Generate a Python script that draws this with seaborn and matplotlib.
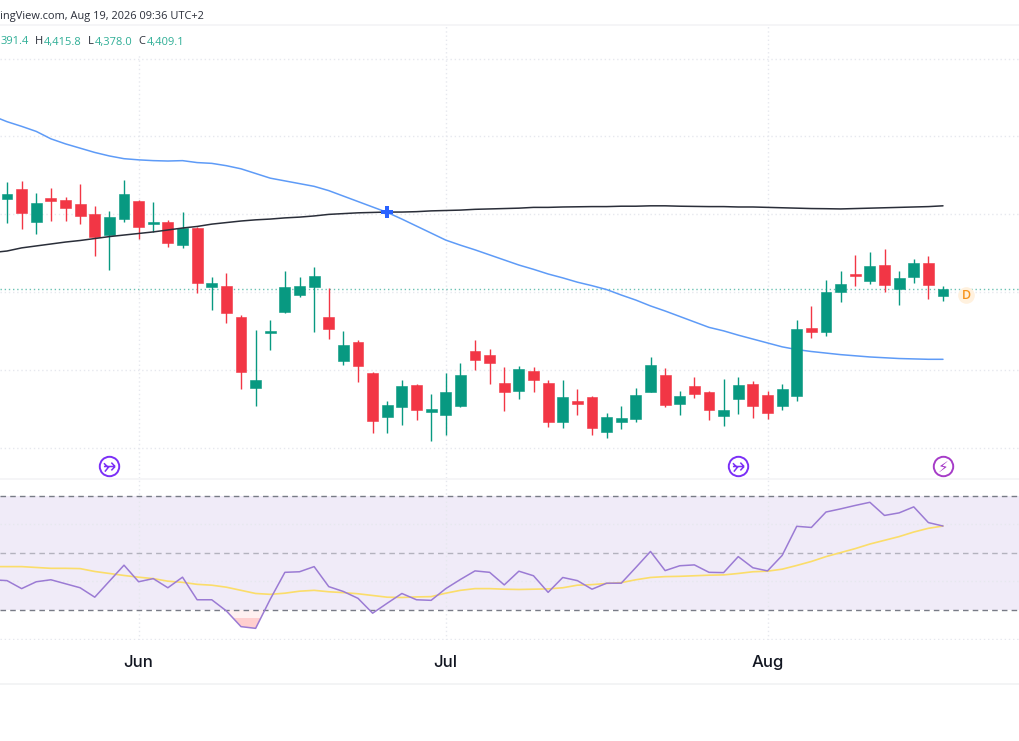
import numpy as np
import pandas as pd
import seaborn as sns
import matplotlib.pyplot as plt
from matplotlib.lines import Line2D
from matplotlib.patches import Rectangle
from matplotlib.path import Path

# Daily candles
opens = [4640, 4664, 4580, 4641, 4638, 4626, 4600, 4547, 4587, 4635, 4576, 4581, 4522,
         4564, 4414, 4416, 4337, 4155, 4295, 4349, 4393, 4414, 4337, 4224, 4273, 4192,
         4080, 4105, 4162, 4094, 4085, 4109, 4249, 4238, 4168, 4147, 4197, 4168, 4066,
         4121, 4131, 4041, 4066, 4074, 4145, 4188, 4114, 4159, 4145, 4082, 4126, 4164,
         4136, 4109, 4135, 4308, 4297, 4400, 4448, 4429, 4469, 4408, 4439, 4474, 4391.4]
highs = [4682, 4686, 4654, 4667, 4644, 4677, 4622, 4608, 4688, 4637, 4631, 4585, 4605,
         4568, 4439, 4450, 4343, 4302, 4329, 4454, 4439, 4464, 4411, 4301, 4278, 4195,
         4122, 4174, 4165, 4139, 4193, 4219, 4278, 4254, 4208, 4210, 4208, 4174, 4174,
         4151, 4133, 4090, 4108, 4154, 4233, 4205, 4147, 4183, 4147, 4177, 4183, 4172,
         4147, 4164, 4329, 4365, 4432, 4454, 4497, 4503, 4510, 4455, 4486, 4494, 4415.8]
lows = [4579, 4562, 4550, 4582, 4582, 4575, 4493, 4458, 4580, 4538, 4554, 4516, 4513,
        4397, 4355, 4322, 4152, 4109, 4253, 4346, 4389, 4299, 4281, 4214, 4171, 4038,
        4038, 4060, 4073, 4018, 4034, 4105, 4201, 4165, 4095, 4126, 4143, 4054, 4052,
        4085, 4034, 4025, 4048, 4066, 4143, 4105, 4085, 4129, 4073, 4057, 4087, 4077,
        4075, 4098, 4122, 4283, 4289, 4374, 4417, 4422, 4401, 4367, 4423, 4384, 4378.0]
closes = [4652, 4604, 4630, 4634, 4616, 4597, 4542, 4593, 4653, 4567, 4581, 4527, 4566,
          4425, 4424, 4348, 4195, 4176, 4300, 4413, 4416, 4441, 4307, 4264, 4210, 4070,
          4110, 4159, 4099, 4100, 4145, 4188, 4227, 4218, 4144, 4203, 4175, 4066, 4131,
          4112, 4052, 4081, 4077, 4137, 4213, 4110, 4133, 4138, 4099, 4098, 4162, 4107,
          4089, 4153, 4306, 4299, 4401, 4421, 4441, 4467, 4420, 4437, 4474, 4420, 4409.1]

# Moving averages, first value is the bar just off the left edge
ma_blue = [4853, 4838, 4826, 4813, 4794, 4781, 4770, 4759, 4750, 4743, 4740, 4738, 4737,
           4738, 4733, 4731, 4725, 4717, 4705, 4693, 4686, 4679, 4672, 4661, 4647, 4633,
           4619, 4605, 4588, 4570, 4552, 4534, 4521, 4509, 4496, 4483, 4470, 4459, 4447,
           4437, 4426, 4417, 4407, 4393, 4380, 4365, 4352, 4338, 4324, 4310, 4301, 4290,
           4280, 4270, 4260, 4253, 4248, 4244, 4240, 4237, 4234, 4232, 4230, 4229, 4228, 4228]
ma_black = [4502, 4506, 4514, 4519, 4524, 4529, 4533, 4538, 4543, 4547, 4551, 4555, 4560,
            4565, 4569, 4575, 4579, 4583, 4586, 4588, 4591, 4593, 4596, 4600, 4602, 4604,
            4605, 4606, 4606, 4607, 4609, 4610, 4611, 4613, 4614, 4615, 4616, 4618, 4618,
            4619, 4619.5, 4620, 4620, 4621, 4621, 4622, 4622, 4621, 4620.5, 4620, 4620, 4619,
            4619, 4618, 4617, 4616, 4615, 4614.6, 4614, 4615, 4616, 4617, 4618, 4619, 4620, 4622]

# RSI and its average
rsi = [40.6, 40.3, 37.5, 39.9, 40.6, 39.2, 37.8, 34.5, 40.1, 45.7, 39.9, 41.0, 37.8,
       41.5, 33.6, 33.6, 29.7, 24.2, 23.6, 33.8, 43.2, 43.4, 45.2, 38.2, 36.5, 34.1,
       28.9, 32.4, 35.8, 33.6, 33.4, 37.5, 40.7, 43.7, 43.2, 38.8, 43.6, 42.0, 36.2,
       41.4, 40.3, 37.3, 39.4, 39.4, 44.9, 50.5, 43.8, 45.5, 45.8, 43.2, 43.1, 48.7,
       44.8, 43.7, 49.1, 59.3, 58.9, 64.3, 65.4, 66.6, 67.7, 63.1, 64.0, 66.1, 60.6, 59.4]
rsi_ma = [45.2, 45.2, 45.2, 44.9, 44.6, 44.6, 44.5, 43.5, 42.8, 42.1, 41.5, 41.0, 40.1,
          39.7, 39.0, 38.7, 38.0, 36.9, 35.8, 35.5, 35.9, 36.6, 36.9, 36.4, 36.1, 35.7,
          35.1, 34.5, 34.4, 34.6, 34.7, 35.9, 36.9, 37.5, 37.5, 37.3, 37.2, 37.3, 37.4,
          37.8, 38.7, 38.9, 39.3, 39.6, 40.6, 41.4, 41.7, 41.8, 42.0, 42.2, 42.3, 42.8,
          43.4, 43.6, 44.3, 45.6, 47.0, 48.7, 50.1, 51.5, 53.1, 54.4, 55.7, 57.3, 58.6, 59.4]

price_grid = [4000, 4200, 4400, 4600, 4800, 5000]
rsi_grid = [20, 40, 60]
month_labels = ["Jun", "Jul", "Aug"]
month_bars = [9, 30, 52]
ohlc_text = [("391.4", 1, True), ("H", 35, False), ("4,415.8", 44, True), ("L", 88, False),
             ("4,378.0", 95, True), ("C", 138, False), ("4,409.1", 147, True)]
event_bars = [7, 50]

GREEN = "#089981"
RED = "#F23645"
GRID = "#E6E8EE"
W, H = 1020, 741
BAR_PX = 14.625


def box(top, bottom):
    return [0, 1 - bottom / H, 1, (bottom - top) / H]


sns.set_theme(style="white")
plt.rcParams["font.family"] = ["Open Sans", "DejaVu Sans"]

fig = plt.figure(figsize=(W / 100, H / 100), dpi=100, facecolor="white")
ax = fig.add_axes(box(26, 478))
ax2 = fig.add_axes(box(480, 639.5), sharex=ax)

candles = pd.DataFrame({"bar": range(len(opens)), "open": opens, "high": highs,
                        "low": lows, "close": closes})
candles["color"] = np.where(candles["close"] >= candles["open"], GREEN, RED)
lines = pd.DataFrame({"bar": range(-1, len(opens)), "blue": ma_blue, "black": ma_black,
                      "rsi": rsi, "rsi_ma": rsi_ma})

# grid first so that everything sits on top
for level in price_grid:
    ax.axhline(level, color=GRID, lw=1, ls=(0, (1, 2)), zorder=0)
for level in rsi_grid:
    ax2.axhline(level, color=GRID, lw=1, ls=(0, (1, 2)), zorder=2)
for bar in month_bars:
    ax.axvline(bar, color=GRID, lw=1, ls=(0, (1, 2)), zorder=0)
    ax2.axvline(bar, color=GRID, lw=1, ls=(0, (1, 2)), zorder=2)

ax.axhline(closes[-1], color=GREEN, lw=1, ls=(0, (1, 2)), alpha=0.6, zorder=1)

sns.lineplot(data=lines, x="bar", y="blue", color="#5E9BF7", lw=1.1, ax=ax, zorder=2, legend=False)

# candles
ax.vlines(candles["bar"], candles["low"], candles["high"], colors=candles["color"], lw=1, zorder=3)
ax.bar(candles["bar"], candles["close"] - candles["open"], bottom=candles["open"], width=0.75,
       color=candles["color"], edgecolor=candles["color"], linewidth=0.4, zorder=4)

sns.lineplot(data=lines, x="bar", y="black", color="#2A2E39", lw=1.1, ax=ax, zorder=5, legend=False)

# cross marker and the event icons
ax.plot([26], [ma_blue[27]], marker="P", ms=9, color="#2962FF", mew=0, zorder=6)

icon = Path([(-0.6, 0.0), (0.6, 0.0), (0.2, 0.42), (0.6, 0.0), (0.2, -0.42), (0.6, 0.0),
             (-0.6, 0.35), (-0.25, 0.0), (-0.05, 0.0), (-0.5, -0.55)],
            [Path.MOVETO, Path.LINETO, Path.MOVETO, Path.LINETO, Path.MOVETO, Path.LINETO,
             Path.MOVETO, Path.LINETO, Path.MOVETO, Path.LINETO])
event_y = 3954
for bar in event_bars:
    ax.plot([bar], [event_y], marker="o", ms=14, mfc="white", mec="#7B2FF7", mew=1.4, zorder=6)
    ax.plot([bar], [event_y], marker=icon, ms=8, mfc="none", mec="#7B2FF7", mew=1.1, zorder=7)
ax.plot([64], [event_y], marker="o", ms=14, mfc="white", mec="#A63CC8", mew=1.4, zorder=6)
ax.text(64, event_y - 2, "\u26a1", color="#A63CC8", fontsize=11, ha="center", va="center",
        family="DejaVu Sans", zorder=7)

# "D" badge next to the last bar
ax.plot([65.6], [4394], marker="o", ms=12, color="#FFF1DE", mew=0, zorder=6)
ax.text(65.6, 4393, "D", color="#F7931A", fontsize=9, fontweight="semibold",
        ha="center", va="center", zorder=7)

# RSI pane
ax2.axhspan(30, 70, color="#7E57C2", alpha=0.115, lw=0, zorder=1)
for level, alpha in [(70, 1), (50, 0.5), (30, 1)]:
    ax2.axhline(level, color="#787B86", lw=1, ls=(0, (4, 3)), alpha=alpha, zorder=2)

fill = ax2.fill_between(lines["bar"], lines["rsi"], 30, where=lines["rsi"] < 30,
                        interpolate=True, color="none", lw=0)
grad = ax2.imshow(np.array([[0.0], [1.0]]), extent=(15, 19, 23.6, 30), aspect="auto",
                  cmap=sns.blend_palette(["#FFF0F0", "#FFCFCF"], as_cmap=True), zorder=1)
grad.set_clip_path(fill.get_paths()[0], transform=ax2.transData)

sns.lineplot(data=lines, x="bar", y="rsi_ma", color="#FBDD6A", lw=1.2, ax=ax2, zorder=3, legend=False)
sns.lineplot(data=lines, x="bar", y="rsi", color="#9B7BD4", lw=1.1, ax=ax2, zorder=4, legend=False)

# limits are what place the price and RSI scales on the canvas
ax.set_xlim(-7 / BAR_PX, (W - 7) / BAR_PX)
ax.set_ylim(3923.3, 5083.6)
ax2.set_ylim(19.7, 75.5)

for a in (ax, ax2):
    sns.despine(ax=a, left=True, right=True, top=True, bottom=True)
    a.set_xlabel("")
    a.set_ylabel("")
    a.set_yticks([])
    a.patch.set_alpha(0)

ax.tick_params(axis="x", length=0, labelbottom=False)
ax2.set_xticks(month_bars)
ax2.set_xticklabels(month_labels, fontsize=12, color="#131722", fontweight="medium", family="Inter")
ax2.tick_params(axis="x", length=0, pad=11)

# pane separators
for y, color in [(25, "#F3F4F6"), (479, "#F3F4F6"), (684, "#F1F2F4")]:
    fig.add_artist(Line2D([0, 1], [1 - y / H, 1 - y / H], color=color, lw=1.2))

# legend row sits on a white strip that hides the grid
fig.add_artist(Rectangle((0, 1 - 55 / H), 190 / W, 28 / H, color="white", lw=0))

# header and OHLC row, both cut off by the left edge
fig.text(0, 1 - 16 / H, "ingView.com, Aug 19, 2026 09:36 UTC+2", fontsize=7.9,
         color="#2A2E39", va="center", ha="left")
for label, px, is_value in ohlc_text:
    fig.text(px / W, 1 - 42 / H, label, fontsize=8, va="center", ha="left",
             color="#2FAE96" if is_value else "#2A2E39")

fig.savefig("out.png", dpi=100)
